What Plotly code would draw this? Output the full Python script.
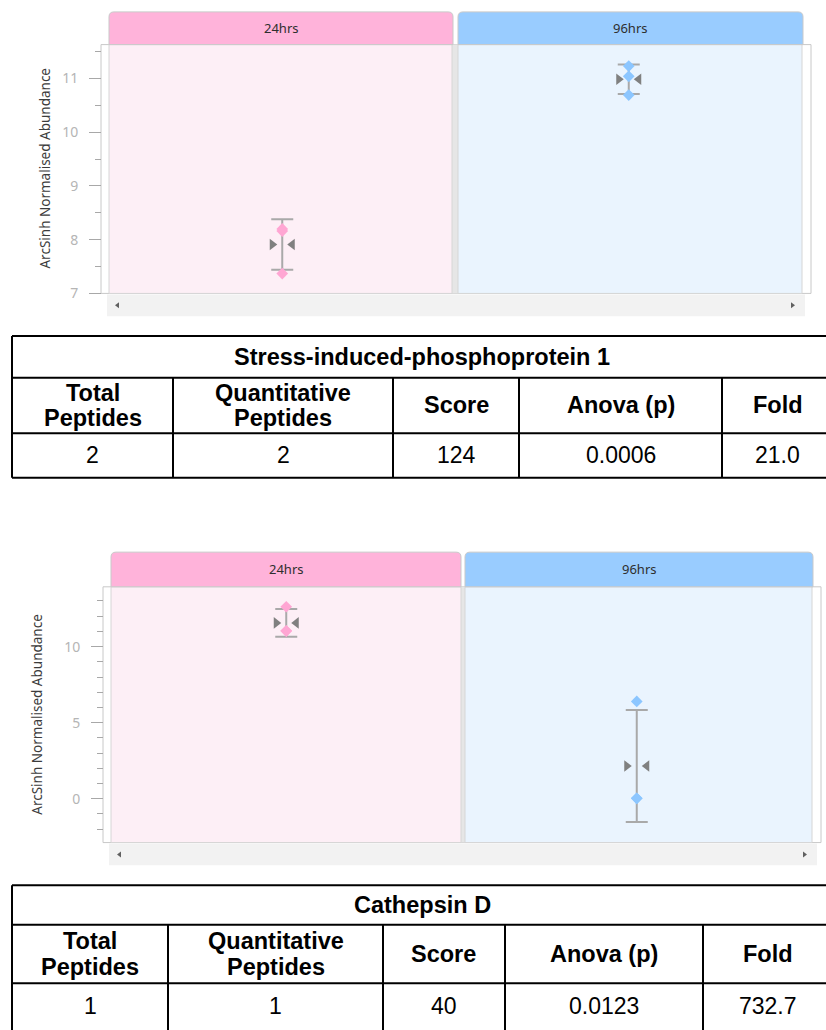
import numpy as np
import plotly.graph_objects as go

# ---- data -----------------------------------------------------------------
groups = ["24hrs", "96hrs"]

# ArcSinh normalised abundance per replicate
sip1_24h = [8.20, 8.16, 7.37]
sip1_96h = [11.23, 11.04, 10.69]
ctsd_24h = [12.62, 11.04, 11.02]
ctsd_96h = [6.40, 0.03, 0.03]

protein_names = ["Stress-induced-phosphoprotein 1", "Cathepsin D"]
table_headers = [["Total", "Peptides"], ["Quantitative", "Peptides"], ["Score"], ["Anova (p)"], ["Fold"]]
total_peptides = ["2", "1"]
quant_peptides = ["2", "1"]
scores = ["124", "40"]
anova_p = ["0.0006", "0.0123"]
fold_change = ["21.0", "732.7"]

# ---- page geometry --------------------------------------------------------
W, H = 826, 1030


def px(x):
    return x / W


def py(y):
    return 1 - y / H


group_fill = ["#fdeff6", "#eaf4fe"]
header_fill = ["#ffb3da", "#99ccff"]
marker_color = ["#ffa6d3", "#8cc6ff"]
AX_FONT = "Noto Sans, Open Sans, DejaVu Sans, sans-serif"
TAB_FONT = "Liberation Sans, Arial, sans-serif"

charts = [
    dict(values=[sip1_24h, sip1_96h], frame=(101, 45, 811, 296),
         panels=[(109, 452), (458, 802)], headers=[(109, 453), (458, 803)],
         header_y=(12, 45), scroll=(107, 297, 805, 319),
         yrange=[7.0, 11.63], dtick=1, minor=0.5, title_xy=(45, 170)),
    dict(values=[ctsd_24h, ctsd_96h], frame=(103, 592, 821, 850),
         panels=[(111, 461), (465, 812)], headers=[(111, 461), (465, 813)],
         header_y=(557, 592), scroll=(109, 851, 817, 873),
         yrange=[-2.88, 13.93], dtick=5, minor=1, title_xy=(37, 721)),
]

fig = go.Figure()
shapes = []
annotations = []
layout_axes = {}


def rect(x0, y0, x1, y1, fill, line="rgba(0,0,0,0)", lw=1, layer="below"):
    shapes.append(dict(type="rect", xref="paper", yref="paper",
                       x0=px(x0), x1=px(x1), y0=py(y1), y1=py(y0),
                       fillcolor=fill, line=dict(color=line, width=lw), layer=layer))


def tab_path(x0, x1, y0, y1, fill, r=5):
    # rectangle with rounded top corners
    path = (f"M{px(x0)},{py(y1)} L{px(x0)},{py(y0 + r)} "
            f"Q{px(x0)},{py(y0)} {px(x0 + r)},{py(y0)} "
            f"L{px(x1 - r)},{py(y0)} Q{px(x1)},{py(y0)} {px(x1)},{py(y0 + r)} "
            f"L{px(x1)},{py(y1)} Z")
    shapes.append(dict(type="path", xref="paper", yref="paper", path=path,
                       fillcolor=fill, line=dict(color="#c9c9c9", width=1), layer="below"))


def arrow(x, y, direction):
    d = -1 if direction == "left" else 1
    path = (f"M{px(x - 2 * d)},{py(y - 3)} L{px(x + 2 * d)},{py(y)} "
            f"L{px(x - 2 * d)},{py(y + 3)} Z")
    shapes.append(dict(type="path", xref="paper", yref="paper", path=path,
                       fillcolor="#606060", line=dict(width=0), layer="above"))


for ci, ch in enumerate(charts):
    suffix = "" if ci == 0 else str(ci + 1)
    xa, ya = "x" + suffix, "y" + suffix
    fx0, fy0, fx1, fy1 = ch["frame"]
    dom_x0, dom_x1 = ch["panels"][0][0], ch["panels"][1][1]

    # frame, panels and the separator between them
    rect(fx0, fy0, fx1, fy1, "#ffffff", line="#c8c8c8")
    rect(ch["panels"][0][1], fy0, ch["panels"][1][0], fy1, "#e6e6e6")
    for gi, (p0, p1) in enumerate(ch["panels"]):
        rect(p0, fy0, p1, fy1, group_fill[gi], line="#d6d6d6")
    # strip headers
    hy0, hy1 = ch["header_y"]
    for gi, (h0, h1) in enumerate(ch["headers"]):
        tab_path(h0, h1, hy0, hy1, header_fill[gi])
        annotations.append(dict(text=groups[gi], xref="paper", yref="paper",
                                x=px((h0 + h1) / 2), y=py((hy0 + hy1) / 2),
                                showarrow=False, xanchor="center", yanchor="middle",
                                font=dict(family=AX_FONT, size=13, color="#2e2e2e")))
    # horizontal scrollbar
    sx0, sy0, sx1, sy1 = ch["scroll"]
    rect(sx0, sy0, sx1, sy1, "#f2f2f2")
    arrow(sx0 + 10, (sy0 + sy1) / 2, "left")
    arrow(sx1 - 12, (sy0 + sy1) / 2, "right")

    # y axis title
    tx, ty = ch["title_xy"]
    annotations.append(dict(text="ArcSinh Normalised Abundance", xref="paper", yref="paper",
                            x=px(tx), y=py(ty), textangle=-90, showarrow=False,
                            xanchor="center", yanchor="middle",
                            font=dict(family=AX_FONT, size=13.5, color="#3c3c3c")))

    # marks: error bar (mean +/- SD), replicate diamonds, mean indicator
    tri_off = 10 * 2.0 / (dom_x1 - dom_x0)
    for gi, vals in enumerate(ch["values"]):
        mean = float(np.mean(vals))
        sd = float(np.std(vals, ddof=1))
        fig.add_trace(go.Scatter(
            x=[gi], y=[mean], mode="markers", xaxis=xa, yaxis=ya,
            marker=dict(size=2, opacity=0), showlegend=False, hoverinfo="skip",
            error_y=dict(type="data", array=[sd], color="#a9a9a9", thickness=2, width=11)))
        fig.add_trace(go.Scatter(
            x=[gi] * len(vals), y=vals, mode="markers", xaxis=xa, yaxis=ya,
            marker=dict(symbol="diamond", size=9, color=marker_color[gi], line=dict(width=0)),
            showlegend=False, name=groups[gi]))
        fig.add_trace(go.Scatter(
            x=[gi - tri_off, gi + tri_off], y=[mean, mean], mode="markers",
            xaxis=xa, yaxis=ya, showlegend=False, hoverinfo="skip",
            marker=dict(symbol=["triangle-right", "triangle-left"], size=10,
                        color="#808080", line=dict(width=0))))

    layout_axes["xaxis" + suffix] = dict(
        domain=[px(dom_x0), px(dom_x1)], range=[-0.5, 1.5], visible=False,
        anchor=ya, fixedrange=True)
    layout_axes["yaxis" + suffix] = dict(
        domain=[py(fy1), py(fy0)], range=ch["yrange"], anchor="free", position=px(fx0),
        showgrid=False, zeroline=False, showline=False,
        ticks="outside", ticklen=12, tickwidth=1, tickcolor="#a8a8a8",
        dtick=ch["dtick"], tick0=0, ticklabelstandoff=8,
        tickfont=dict(family=AX_FONT, size=14, color="#b5b5b5"),
        minor=dict(ticks="outside", ticklen=6, tickwidth=1, tickcolor="#a8a8a8",
                   dtick=ch["minor"], tick0=0, showgrid=False),
        fixedrange=True)

# ---- summary tables --------------------------------------------------------
tables = [
    dict(rows=[339, 381, 437, 482], cols=[12, 173, 393, 519, 722, 833], line_gap=25),
    dict(rows=[893, 933, 992, 1040], cols=[12, 168, 383, 505, 703, 833], line_gap=27),
]


def hline(x0, x1, y, w=2):
    shapes.append(dict(type="line", xref="paper", yref="paper", x0=px(x0), x1=px(x1),
                       y0=py(y), y1=py(y), line=dict(color="#000000", width=w), layer="above"))


def vline(x, y0, y1, w=2):
    shapes.append(dict(type="line", xref="paper", yref="paper", x0=px(x), x1=px(x),
                       y0=py(y0), y1=py(y1), line=dict(color="#000000", width=w), layer="above"))


def cell_text(text, x, y, bold=False):
    annotations.append(dict(text=text, xref="paper", yref="paper", x=px(x), y=py(y),
                            showarrow=False, xanchor="center", yanchor="middle",
                            font=dict(family=TAB_FONT, size=23.5 if bold else 23,
                                      color="#000000",
                                      weight="bold" if bold else "normal")))


for ti, tb in enumerate(tables):
    r0, r1, r2, r3 = tb["rows"]
    cols = tb["cols"]
    for y in tb["rows"]:
        hline(cols[0], cols[-1], y)
    vline(cols[0], r0, r3)
    vline(cols[-1], r0, r3)
    for x in cols[1:-1]:
        vline(x, r1, r3)
    cell_text(protein_names[ti], (cols[0] + cols[-1]) / 2, (r0 + r1) / 2, bold=True)
    row_vals = [total_peptides[ti], quant_peptides[ti], scores[ti], anova_p[ti], fold_change[ti]]
    for k in range(5):
        cx = (cols[k] + cols[k + 1]) / 2
        lines = table_headers[k]
        mid = (r1 + r2) / 2
        for li, line in enumerate(lines):
            cell_text(line, cx, mid + (li - (len(lines) - 1) / 2) * tb["line_gap"], bold=True)
        cell_text(row_vals[k], cx, min((r2 + r3) / 2, 1015))

fig.update_layout(
    width=W, height=H, margin=dict(l=0, r=0, t=0, b=0),
    paper_bgcolor="#ffffff", plot_bgcolor="rgba(0,0,0,0)",
    shapes=shapes, annotations=annotations, showlegend=False,
    **layout_axes)

fig.write_html("out.html")
